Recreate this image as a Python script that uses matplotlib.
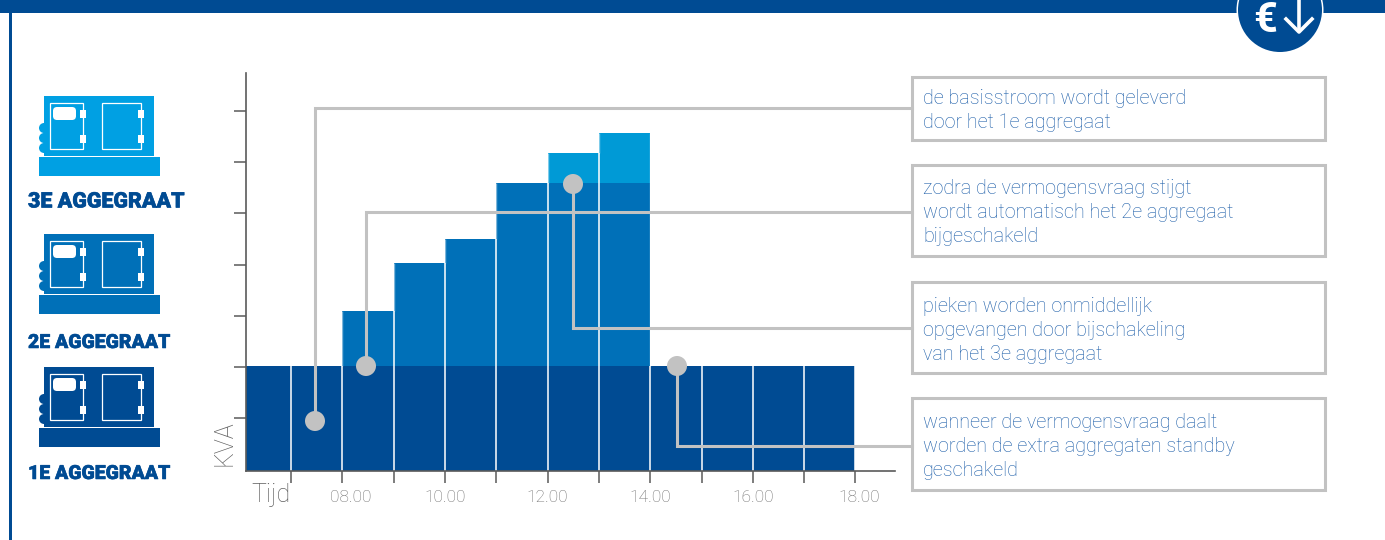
import numpy as np
import matplotlib
matplotlib.use('Agg')
import matplotlib.pyplot as plt
import matplotlib.patheffects as pe
from matplotlib.patches import Rectangle, Circle, FancyBboxPatch

# hour edges of the bars, first one is cut off by the y axis
edges = [6.12, 7, 8, 9, 10, 11, 12, 13, 14, 15, 16, 17, 18]
first = [2.05] * 12
second = [0, 0, 1.07, 2.01, 2.48, 3.57, 3.57, 3.57, 0, 0, 0, 0]
third = [0, 0, 0, 0, 0, 0, 0.59, 0.98, 0, 0, 0, 0]

x_ticks = [7, 8, 9, 10, 11, 12, 13, 14, 15, 16, 17, 18]
x_labels = ['08.00', '10.00', '12.00', '14.00', '16.00', '18.00']
x_label_pos = [8, 10, 12, 14, 16, 18]
x_label_shift = [8, 0, 0, 0, 0, 4]
y_ticks = [1.03, 2.03, 3.03, 4.03, 5.03, 6.03, 7.03]

dark = '#004b93'
mid = '#0070b8'
light = '#009ad6'
grey = '#c2c2c2'
axis_col = '#5a5a5a'

notes = [
    ['de basisstroom wordt geleverd', 'door het 1e aggregaat'],
    ['zodra de vermogensvraag stijgt', 'wordt automatisch het 2e aggregaat', 'bijgeschakeld'],
    ['pieken worden onmiddellijk', 'opgevangen door bijschakeling', 'van het 3e aggregaat'],
    ['wanneer de vermogensvraag daalt', 'worden de extra aggregaten standby', 'geschakeld'],
]
W, H = 1385, 540

fig = plt.figure(figsize=(W / 100, H / 100), dpi=100)
plt.rcParams['font.family'] = ['Roboto', 'DejaVu Sans']

# chart axes, placed in pixels
ax = fig.add_axes([246 / W, 1 - 471 / H, 649 / W, 398 / H])
left = np.array(edges[:-1])
widths = np.diff(edges)
ax.bar(left, first, widths, align='edge', color=dark)
ax.bar(left, second, widths, bottom=first, align='edge', color=mid)
ax.bar(left, third, widths, bottom=np.add(first, second), align='edge', color=light)
tops = np.add(np.add(first, second), third)
for h in x_ticks:
    i = edges.index(h)
    top = tops[i - 1] if i == len(tops) else max(tops[i], tops[i - 1])
    low = min(tops[i - 1], tops[i]) if i < len(tops) else top
    ax.vlines(h, 0, low, color='white', lw=1.3, alpha=0.85)
    ax.vlines(h, low, top, color='white', lw=1.0, alpha=0.5)
ax.set_xlim(6.12, 18.77)
ax.set_ylim(0, 7.77)
ax.spines['top'].set_visible(False)
ax.spines['right'].set_visible(False)
for s in ['left', 'bottom']:
    ax.spines[s].set_color(axis_col)
    ax.spines[s].set_linewidth(1.2)
ax.set_xticks(x_ticks)
ax.set_xticklabels([])
ax.set_yticks(y_ticks)
ax.set_yticklabels([])
ax.tick_params(axis='both', direction='out', length=8.5, width=1.1, color=axis_col)

# overlay in pixel coordinates for everything around the chart
ov = fig.add_axes([0, 0, 1, 1])
ov.set_xlim(0, W)
ov.set_ylim(H, 0)
ov.axis('off')
ov.patch.set_alpha(0)

for lab, pos, sh in zip(x_labels, x_label_pos, x_label_shift):
    px = 246 + (pos - 6.12) * 649 / 12.65
    ov.text(px + sh, 497, lab, ha='center', va='center', fontsize=12.5, color='#6e6e6e', fontweight='light')
ov.text(271, 495, 'Tijd', ha='center', va='center', fontsize=18, color='#5f5f5f', fontweight='light')
ov.text(224, 443, 'KVA', ha='center', va='center', rotation=90, fontsize=18, color='#5f5f5f', fontweight='light')

# top band, left rule
ov.add_patch(Rectangle((0, 0), W, 13, color=dark, lw=0))
ov.add_patch(Rectangle((9, 0), 2.5, H, color=dark, lw=0))
ov.add_patch(Circle((1280, 10), 43.5, color='white', lw=0))
ov.add_patch(Circle((1280, 10), 42, color=dark, lw=0))
ov.text(1265, 32, '€', ha='center', va='baseline', fontsize=30, color='white', fontweight='bold')
ov.plot([1299, 1299], [0, 31], color='white', lw=2.6, solid_capstyle='butt')
ov.plot([1286, 1299, 1312], [19, 32, 19], color='white', lw=2.6)

# generator icons
def generator(dy, col):
    ov.add_patch(Rectangle((44, 96 + dy), 110, 60, color=col, lw=0))
    ov.add_patch(Rectangle((39, 157 + dy), 121, 19, color=col, lw=0))
    for cy in [128, 138, 148]:
        ov.add_patch(Circle((44, cy + dy), 5, color=col, lw=0))
    ov.add_patch(Rectangle((50, 103 + dy), 33, 46, fc='none', ec='white', lw=0.9))
    ov.add_patch(Rectangle((102, 103 + dy), 39, 46, fc='none', ec='white', lw=0.9))
    ov.add_patch(FancyBboxPatch((56, 110 + dy), 17, 7, boxstyle='round,pad=3,rounding_size=4', fc='white', ec='none'))
    for hx in [80, 137.5]:
        for hy in [110, 135]:
            ov.add_patch(Rectangle((hx, hy + dy), 6, 8, color='white', lw=0))

generator(0, '#00a0e3')
generator(138, mid)
generator(271, dark)
for lab, y, fs in zip(['3E AGGEGRAAT', '2E AGGEGRAAT', '1E AGGEGRAAT'], [202, 343, 474], [15.4, 14.0, 14.0]):
    ov.text(28, y, lab, ha='left', va='center', fontsize=fs, color=dark, fontweight='black',
            path_effects=[pe.withStroke(linewidth=0.4, foreground=dark)])

# note boxes
boxes = [(77, 140), (165, 256), (282, 373), (398, 490)]
line_y = [[98, 122], [188, 212, 236], [306, 330, 354], [422, 446, 471]]
for (y0, y1), lines, ys in zip(boxes, notes, line_y):
    ov.add_patch(Rectangle((912, y0), 413, y1 - y0, fc='white', ec=grey, lw=2.2))
    for t, y in zip(lines, ys):
        ov.text(923, y, t, ha='left', va='center', fontsize=14.2, color='#1a5ca8', fontweight='light')

# connectors from the chart to the boxes
links = [(315, 421, 108), (366, 366, 212), (573, 184, 328), (677, 366, 446)]
for x, y, ly in links:
    ov.plot([x, x, 912], [y, ly, ly], color=grey, lw=2.2, solid_joinstyle='miter')
    ov.add_patch(Circle((x, y), 10, color=grey, lw=0, zorder=3))

fig.savefig('out.png', dpi=100)
